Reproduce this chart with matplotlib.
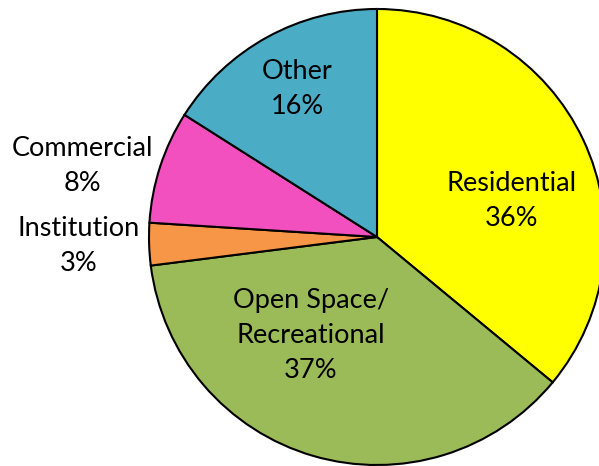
import matplotlib
matplotlib.use("Agg")
import matplotlib.pyplot as plt

plt.rcParams.update({"font.family": ["Lato", "DejaVu Sans"], "font.size": 19.5})

categories = ["Residential", "Open Space/\nRecreational", "Institution", "Commercial", "Other"]
values = [36, 37, 3, 8, 16]
colors = ["#FFFF00", "#9BBB59", "#F79646", "#F24FBF", "#4BACC6"]

# label anchor positions (in pie radius units)
label_pos = [(0.59, 0.16), (-0.29, -0.43), (-1.31, -0.04), (-1.29, 0.31), (-0.35, 0.65)]

fig = plt.figure(figsize=(5.99, 4.66), dpi=100)
ax = fig.add_axes([0, 0, 1, 1])
ax.pie(values, colors=colors, startangle=90, counterclock=False,
       radius=1.0, center=(0, 0),
       wedgeprops=dict(edgecolor="black", linewidth=1.5))

for name, v, (x, y) in zip(categories, values, label_pos):
    ax.text(x, y, f"{name}\n{v}%", ha="center", va="center",
            linespacing=1.5, color="black")

# centre at pixel (377, 237), radius 228 px
s = 228.0
ax.set_xlim(-377 / s, (599 - 377) / s)
ax.set_ylim(-(466 - 237) / s, 237 / s)
ax.set_aspect("auto")
ax.axis("off")

fig.savefig("out.png", dpi=100)
